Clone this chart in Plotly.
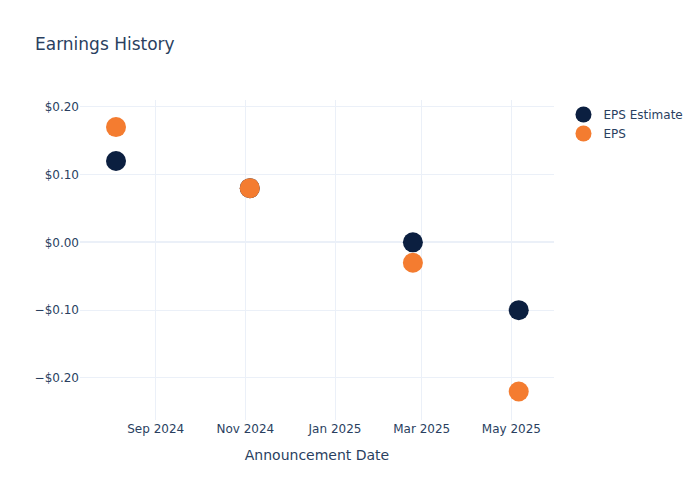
import plotly.graph_objs as go

dates = ['2024-08-05', '2024-11-04', '2025-02-23', '2025-05-06']
eps_estimate = [0.12, 0.08, 0.00, -0.10]
eps_actual = [0.17, 0.08, -0.03, -0.22]

fig = go.Figure()
fig.add_trace(go.Scatter(x=dates, y=eps_estimate, mode='markers', name='EPS Estimate',
                         marker=dict(color='#0b1f40', size=20)))
fig.add_trace(go.Scatter(x=dates, y=eps_actual, mode='markers', name='EPS',
                         marker=dict(color='#f47c30', size=20)))

fig.update_layout(
    template='plotly_white',
    width=700, height=500,
    font=dict(family='DejaVu Sans'),
    title=dict(text='Earnings History'),
    xaxis=dict(title='Announcement Date', dtick='M2', tickformat='%b %Y',
               range=['2024-07-11 12:00', '2025-05-30']),
    yaxis=dict(tickformat='$.2f', dtick=0.1, range=[-0.262, 0.21]),
)

# page has a default 8px body margin, drop it so the figure sits at the corner
fig.write_html("out.html", config={'displayModeBar': False},
               post_script="document.body.style.margin='0';")
